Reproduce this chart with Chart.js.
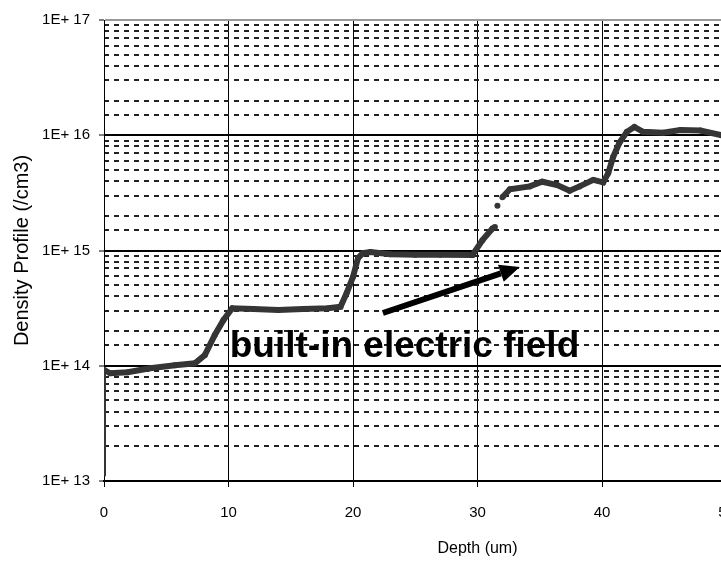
<!DOCTYPE html>
<html>
<head>
<meta charset="utf-8">
<script src="https://cdn.jsdelivr.net/npm/chart.js@4/dist/chart.umd.min.js"></script>
<style>
  html, body { margin: 0; padding: 0; background: #fff; overflow: hidden; }
  #wrap { position: absolute; left: 0; top: 0; width: 880px; height: 561px; }
</style>
</head>
<body>
<div id="wrap"><canvas id="profile-chart" width="880" height="561"></canvas></div>
<script>
// depth (um) and measured density (/cm3); null = break in the trace
const depthUm = [0, 0, 0.5, 1.9, 3.7, 5.7, 7.3, 8.1, 8.9, 9.6, 10.3, 12, 14, 16, 18, 19.0,
    19.5, 20.0, 20.4, 20.8, 21.4, 23, 25, 27, 29.6, 30.4, 31.2, 31.4, 31.5, 31.6, 31.7,
    32.0, 32.6, 34.2, 35.2, 36.4, 37.4, 38.2, 39.3, 40.1, 40.5, 40.9, 41.4, 42.0, 42.6,
    43.3, 44.9, 46.3, 47.9, 49.6, 51];
const densityCm3 = [1.1e13, 9.2e13, 8.6e13, 8.8e13, 9.5e13, 1.01e14, 1.05e14, 1.24e14, 1.85e14, 2.5e14,
    3.15e14, 3.1e14, 3.05e14, 3.1e14, 3.15e14, 3.25e14,
    4.3e14, 5.9e14, 8.6e14, 9.5e14, 9.7e14, 9.3e14, 9.2e14, 9.2e14, 9.15e14, 1.23e15, 1.55e15, 1.6e15,
    null, 2.45e15, null,
    2.9e15, 3.4e15, 3.6e15, 3.95e15, 3.7e15, 3.3e15, 3.6e15, 4.1e15, 3.9e15, 4.7e15, 6.5e15,
    8.6e15, 1.07e16, 1.18e16, 1.07e16, 1.05e16, 1.11e16, 1.1e16, 1.0e16, 1.0e16];

const xRange = [0, 60];
const xStep = 10;
const yRange = [1e13, 1e17];

const annotationText = 'built-in electric field';
const arrowFrom = [22.4, 2.87e14];
const arrowTo = [33.4, 7.2e14];
const labelAt = [10.1, 1.19e14];

const isDecade = v => Math.abs(Math.log10(v) - Math.round(Math.log10(v))) < 1e-6;
const tickFont = { family: '"Liberation Sans", Arial, sans-serif', size: 15 };
const titleFont = { family: '"Liberation Sans", Arial, sans-serif', size: 16 };

const fieldArrow = {
    id: 'fieldArrow',
    afterDatasetsDraw(chart) {
        const { ctx, scales: { x, y } } = chart;
        const x0 = x.getPixelForValue(arrowFrom[0]), y0 = y.getPixelForValue(arrowFrom[1]);
        const x1 = x.getPixelForValue(arrowTo[0]), y1 = y.getPixelForValue(arrowTo[1]);
        const ang = Math.atan2(y1 - y0, x1 - x0);
        const headLen = 20, headHalf = 9;
        const bx = x1 - headLen * Math.cos(ang), by = y1 - headLen * Math.sin(ang);

        ctx.save();
        ctx.strokeStyle = '#000';
        ctx.fillStyle = '#000';
        ctx.lineWidth = 6;
        ctx.beginPath();
        ctx.moveTo(x0, y0);
        ctx.lineTo(bx, by);
        ctx.stroke();
        ctx.beginPath();
        ctx.moveTo(x1, y1);
        ctx.lineTo(bx + headHalf * Math.sin(ang), by - headHalf * Math.cos(ang));
        ctx.lineTo(bx - headHalf * Math.sin(ang), by + headHalf * Math.cos(ang));
        ctx.closePath();
        ctx.fill();

        ctx.font = 'bold 37px "Liberation Sans", Arial, sans-serif';
        ctx.textBaseline = 'alphabetic';
        ctx.textAlign = 'left';
        ctx.fillText(annotationText, x.getPixelForValue(labelAt[0]), y.getPixelForValue(labelAt[1]));
        ctx.restore();
    }
};

new Chart(document.getElementById('profile-chart'), {
    type: 'line',
    data: {
        datasets: [{
            data: depthUm.map((d, i) => ({ x: d, y: densityCm3[i] })),
            borderColor: '#353535',
            backgroundColor: '#353535',
            borderWidth: 6,
            pointRadius: c => c.dataIndex === 0 ? 0 : 3,
            pointBorderWidth: 0,
            pointBackgroundColor: '#353535',
            spanGaps: false,
            tension: 0,
            segment: {
                borderWidth: c => c.p0.parsed.y < 5e13 ? 4 : undefined
            }
        }]
    },
    options: {
        responsive: false,
        animation: false,
        devicePixelRatio: 1,
        layout: { padding: { top: 20, right: 29, left: 0, bottom: 0 } },
        plugins: { legend: { display: false }, tooltip: { enabled: false } },
        scales: {
            x: {
                type: 'linear',
                min: xRange[0],
                max: xRange[1],
                afterFit: s => { s.height = 80; },
                ticks: { stepSize: xStep, color: '#000', font: tickFont, padding: 17, maxRotation: 0 },
                grid: { color: '#000', lineWidth: 1, tickLength: 6, tickColor: '#000' },
                border: { color: '#000', width: 2 },
                title: { display: true, text: 'Depth (um)', color: '#000', font: titleFont, padding: { top: 0, bottom: 3 } }
            },
            y: {
                type: 'logarithmic',
                position: 'left',
                min: yRange[0],
                max: yRange[1],
                afterFit: s => { s.width = 104; },
                ticks: {
                    autoSkip: false,
                    color: '#000',
                    font: tickFont,
                    padding: 9,
                    callback: v => isDecade(v) ? '1E+ ' + Math.round(Math.log10(v)) : ''
                },
                grid: {
                    color: c => !isDecade(c.tick.value) ? 'rgba(0,0,0,0)' : (c.tick.value >= yRange[1] ? '#999' : '#000'),
                    lineWidth: 2,
                    tickLength: 5,
                    tickColor: c => isDecade(c.tick.value) ? '#000' : 'rgba(0,0,0,0)',
                    tickWidth: 1
                },
                border: { color: '#000', width: 1 },
                title: {
                    display: true, text: 'Density Profile (/cm3)', color: '#000',
                    font: { family: titleFont.family, size: 20 }, padding: { top: 10, bottom: 0 }
                }
            },
            yMinor: {
                type: 'logarithmic',
                position: 'left',
                min: yRange[0],
                max: yRange[1],
                afterFit: s => { s.width = 0; },
                ticks: { display: false, autoSkip: false },
                grid: {
                    drawTicks: false,
                    color: c => isDecade(c.tick.value) ? 'rgba(0,0,0,0)' : '#222',
                    lineWidth: 2
                },
                border: { display: false, dash: [5, 5] }
            }
        }
    },
    plugins: [fieldArrow]
});
</script>
</body>
</html>
